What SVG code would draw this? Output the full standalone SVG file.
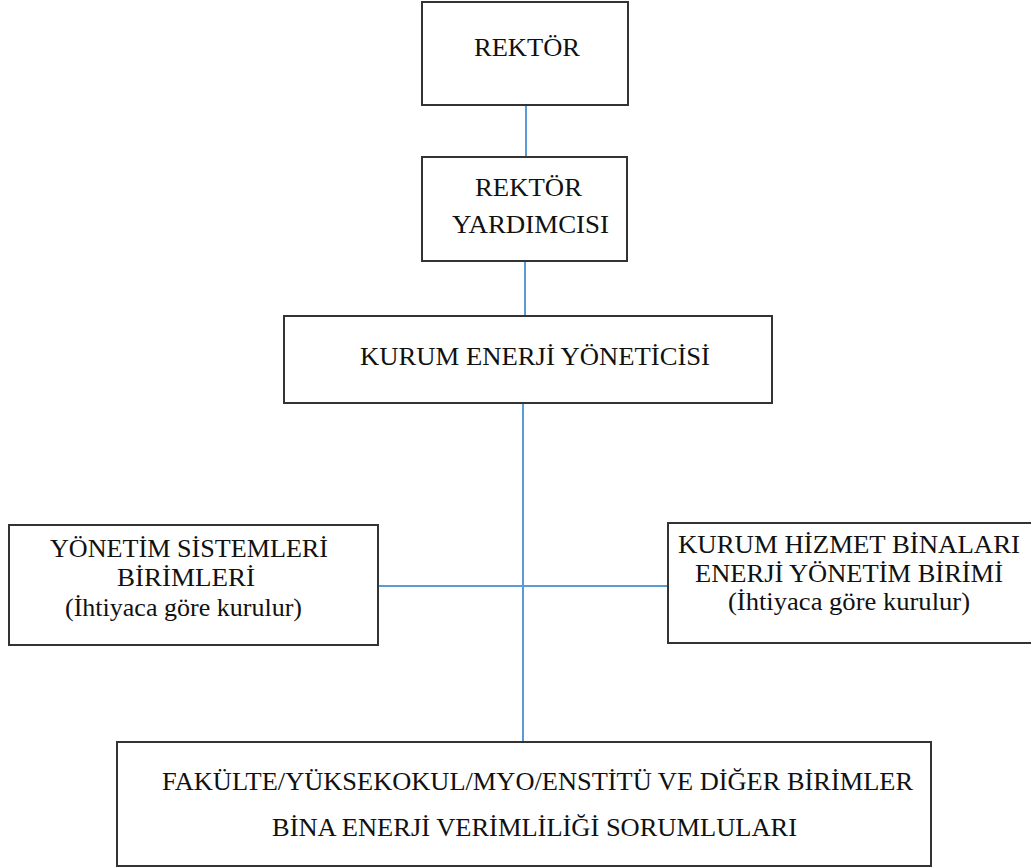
<svg xmlns="http://www.w3.org/2000/svg" width="1031" height="868" viewBox="0 0 1031 868">
<style>
.box{fill:#fff;stroke:#333;stroke-width:2}
.conn{stroke:#5b9bd5;stroke-width:2;fill:none}
text{font-family:"Liberation Serif","Times New Roman",serif;font-size:26px;fill:#111}
.sm{font-size:25px}
</style>
<rect width="1031" height="868" fill="#fff"/>
<g id="connectors">
<line class="conn" x1="526" y1="105" x2="526" y2="157"/>
<line class="conn" x1="525" y1="261" x2="525" y2="316"/>
<line class="conn" x1="523" y1="403" x2="523" y2="742"/>
<line class="conn" x1="378" y1="586" x2="668" y2="586"/>
</g>
<g id="rektor">
<rect class="box" x="422" y="2" width="206" height="103"/>
<text x="474" y="56" textLength="106" lengthAdjust="spacingAndGlyphs">REKTÖR</text>
</g>
<g id="rektor-yardimcisi">
<rect class="box" x="422" y="157" width="205" height="104"/>
<text x="475" y="196" textLength="107" lengthAdjust="spacingAndGlyphs">REKTÖR</text>
<text x="452" y="233" textLength="157" lengthAdjust="spacingAndGlyphs">YARDIMCISI</text>
</g>
<g id="kurum-enerji-yoneticisi">
<rect class="box" x="284" y="316" width="488" height="87"/>
<text x="360" y="365" textLength="350" lengthAdjust="spacingAndGlyphs">KURUM ENERJİ YÖNETİCİSİ</text>
</g>
<g id="yonetim-sistemleri">
<rect class="box" x="9" y="525" width="369" height="120"/>
<text x="50" y="557" textLength="278" lengthAdjust="spacingAndGlyphs">YÖNETİM SİSTEMLERİ</text>
<text x="117" y="586" textLength="138" lengthAdjust="spacingAndGlyphs">BİRİMLERİ</text>
<text x="65" y="616" textLength="237" lengthAdjust="spacingAndGlyphs">(İhtiyaca göre kurulur)</text>
</g>
<g id="kurum-hizmet-binalari">
<rect class="box" x="668" y="523" width="370" height="120"/>
<text x="678" y="553" textLength="342" lengthAdjust="spacingAndGlyphs">KURUM HİZMET BİNALARI</text>
<text x="695" y="582" textLength="308" lengthAdjust="spacingAndGlyphs">ENERJİ YÖNETİM BİRİMİ</text>
<text x="728" y="610" textLength="242" lengthAdjust="spacingAndGlyphs">(İhtiyaca göre kurulur)</text>
</g>
<g id="fakulte-birimler">
<rect class="box" x="117" y="742" width="814" height="124"/>
<text class="sm" x="162" y="790" textLength="751" lengthAdjust="spacingAndGlyphs">FAKÜLTE/YÜKSEKOKUL/MYO/ENSTİTÜ VE DİĞER BİRİMLER</text>
<text class="sm" x="272" y="836" textLength="525" lengthAdjust="spacingAndGlyphs">BİNA ENERJİ VERİMLİLİĞİ SORUMLULARI</text>
</g>
</svg>
